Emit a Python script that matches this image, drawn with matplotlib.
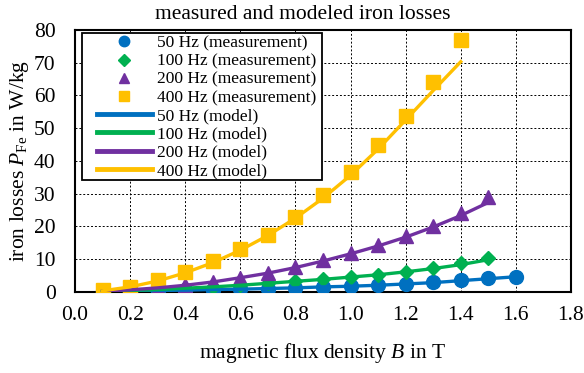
import matplotlib.pyplot as plt
from matplotlib.patches import Rectangle

plt.rcParams['font.family'] = ['Liberation Serif', 'DejaVu Serif']
plt.rcParams['mathtext.fontset'] = 'custom'
plt.rcParams['mathtext.rm'] = 'Liberation Serif'
plt.rcParams['mathtext.it'] = 'Liberation Serif:italic'

# flux density (T)
B = [0.1, 0.2, 0.3, 0.4, 0.5, 0.6, 0.7, 0.8, 0.9, 1.0, 1.1, 1.2, 1.3, 1.4, 1.5, 1.6]

# measured iron losses (W/kg)
meas50 = [0.1, 0.2, 0.3, 0.5, 0.6, 0.8, 1.0, 1.2, 1.5, 1.7, 2.0, 2.5, 2.9, 3.6, 4.2, 4.5]
meas100 = [0.1, 0.4, 0.7, 1.1, 1.5, 2.0, 2.6, 3.2, 3.8, 4.5, 5.2, 6.2, 7.2, 8.8, 10.3]
meas200 = [0.2, 0.6, 1.2, 2.0, 3.0, 4.3, 5.8, 7.6, 9.6, 11.9, 14.2, 17.0, 20.0, 24.0, 29.0]
meas400 = [0.5, 1.5, 3.5, 6.0, 9.5, 13.0, 17.5, 23.0, 29.5, 36.7, 44.9, 53.7, 64.2, 77.0]

# model iron losses (W/kg)
mod50 = [0.1, 0.2, 0.4, 0.5, 0.7, 0.8, 1.0, 1.2, 1.5, 1.7, 2.0, 2.4, 2.8, 3.4, 4.0, 4.6]
mod100 = [0.1, 0.4, 0.7, 1.1, 1.5, 2.0, 2.6, 3.2, 3.8, 4.5, 5.2, 6.1, 7.1, 8.3, 9.8]
mod200 = [0.2, 0.6, 1.2, 2.0, 3.0, 4.3, 5.7, 7.4, 9.4, 11.6, 14.0, 16.7, 19.8, 23.3, 27.3]
mod400 = [0.3, 1.5, 3.3, 5.8, 8.9, 12.7, 17.2, 22.5, 28.6, 35.6, 43.6, 52.5, 61.5, 70.3]

series = [
    ('50 Hz', meas50, mod50, '#0070C0', 'o'),
    ('100 Hz', meas100, mod100, '#00B050', 'D'),
    ('200 Hz', meas200, mod200, '#7030A0', '^'),
    ('400 Hz', meas400, mod400, '#FFC000', 's'),
]

fig = plt.figure(figsize=(5.84, 3.73), dpi=100)
ax = fig.add_axes([0.1284, 0.2177, 0.8493, 0.7019])

meas_handles = []
model_handles = []
for name, meas, mod, col, mk in series:
    ms = 7.5 if mk == 'D' else 10
    h, = ax.plot(B[:len(meas)], meas, linestyle='none', marker=mk, color=col,
                 markersize=ms, label=name + ' (measurement)', zorder=3)
    meas_handles.append(h)
for name, meas, mod, col, mk in series:
    h, = ax.plot(B[:len(mod)], mod, color=col, linewidth=2.4,
                 label=name + ' (model)', zorder=4)
    model_handles.append(h)

ax.set_xlim(0, 1.8)
ax.set_ylim(0, 80)
ax.set_xticks([0.0, 0.2, 0.4, 0.6, 0.8, 1.0, 1.2, 1.4, 1.6, 1.8])
ax.set_xticklabels(['%.1f' % v for v in ax.get_xticks()])
ax.set_yticks(range(0, 81, 10))
ax.grid(True, color='black', linestyle=(0, (2, 2)), linewidth=0.7)
ax.set_axisbelow(True)
ax.tick_params(axis='x', length=0, labelsize=15.5, pad=10)
ax.tick_params(axis='y', length=0, labelsize=15.5, pad=14)
for s in ax.spines.values():
    s.set_linewidth(1.5)

ax.set_title('measured and modeled iron losses', fontsize=15.5, pad=8, x=0.46)
ax.set_xlabel('magnetic flux density $B$ in T', fontsize=15.5, labelpad=12)
ax.set_ylabel('iron losses $P_{\\mathrm{Fe}}$ in W/kg', fontsize=15.5, labelpad=2)

# legend box drawn by hand: wide side padding, tight top/bottom
box = Rectangle((0.0141, 0.427), 0.484, 0.5627, transform=ax.transAxes,
                facecolor='white', edgecolor='black', linewidth=1.3, zorder=5)
ax.add_patch(box)
leg = ax.legend(handles=meas_handles + model_handles, loc='upper left',
                bbox_to_anchor=(0.0444, 0.980), frameon=False,
                fontsize=12.5, handlelength=3.15, markerscale=0.75,
                borderaxespad=0, borderpad=0, labelspacing=0.12,
                handletextpad=0.28)
leg.set_zorder(6)
for line in leg.get_lines():
    if line.get_linestyle() != 'None':
        line.set_linewidth(3.5)

fig.savefig('out.png', dpi=100)
